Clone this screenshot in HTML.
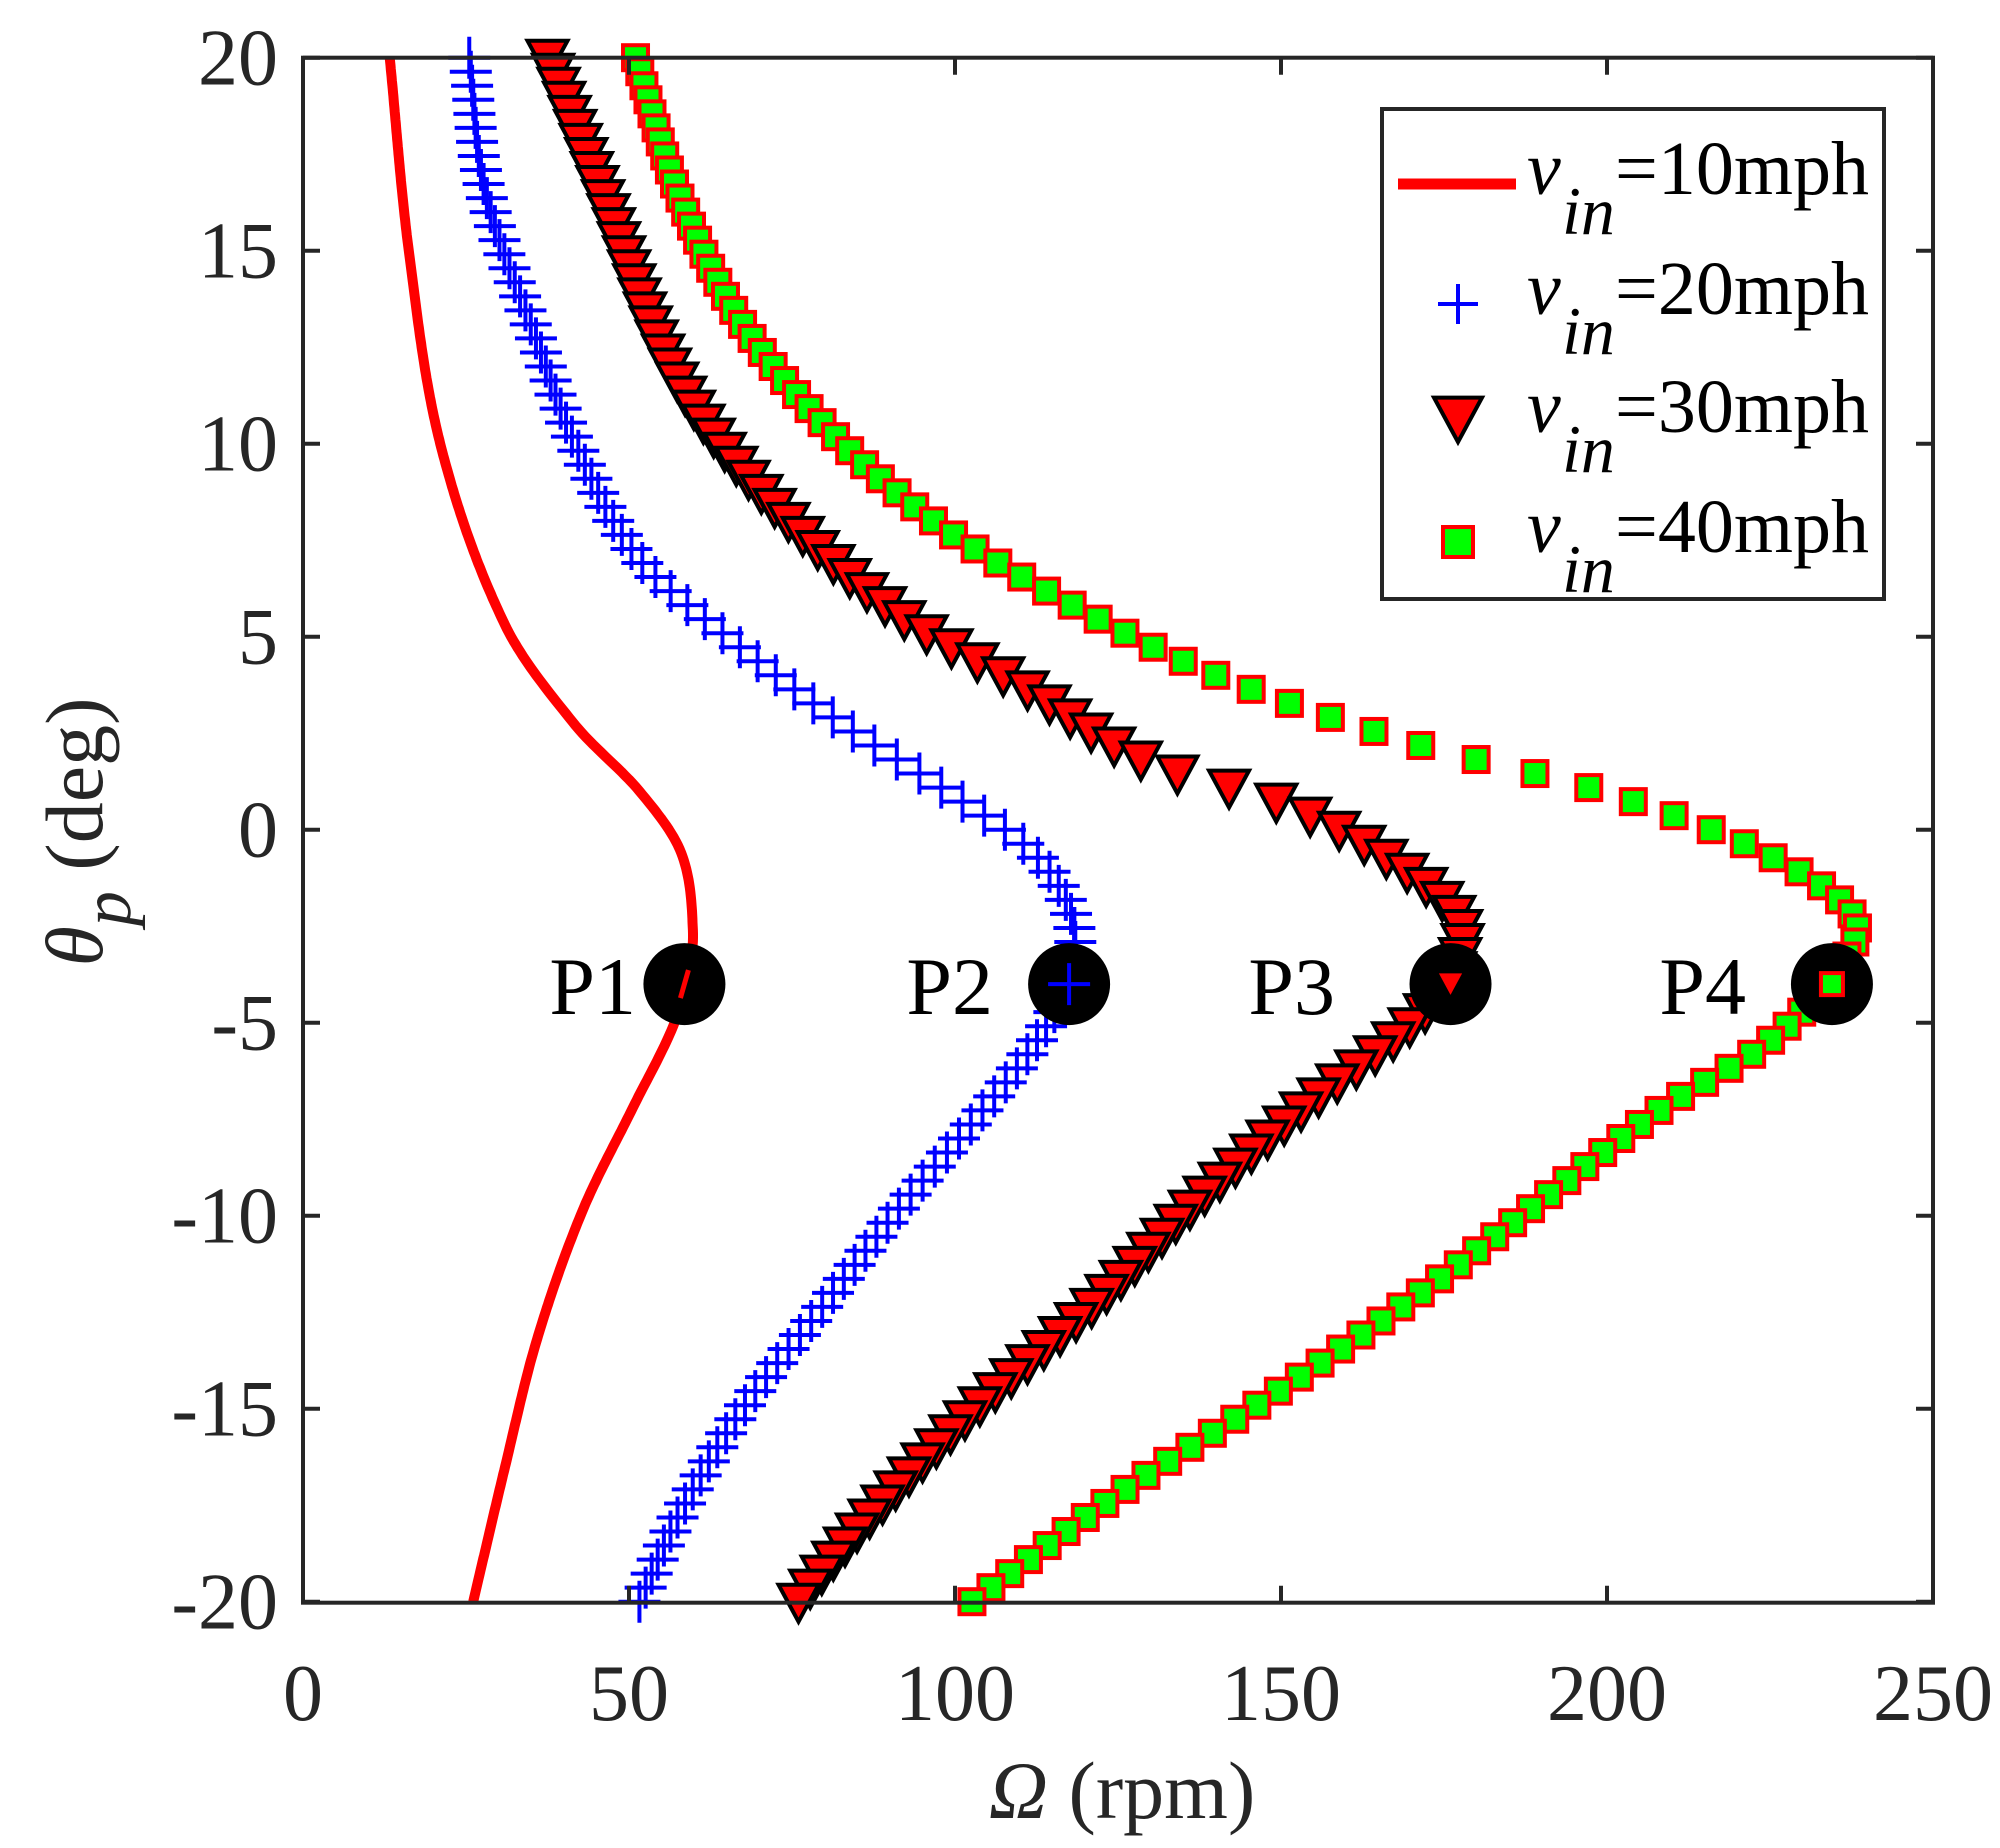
<!DOCTYPE html>
<html><head><meta charset="utf-8"><style>
html,body{margin:0;padding:0;background:#fff;}
text{font-family:"Liberation Serif","Times New Roman",serif;}
</style></head><body>
<svg id="s" width="2000" height="1843" viewBox="0 0 2000 1843" xmlns="http://www.w3.org/2000/svg" font-family="Liberation Serif, serif">
<rect width="2000" height="1843" fill="#fff"/>
<g id="plot"></g>
<g id="axes" stroke="#262626" stroke-width="4" fill="none"></g>
<g font-size="80" fill="#262626" id="labels"></g>
<text x="1122" y="1818" font-size="82" text-anchor="middle" fill="#262626"><tspan font-style="italic">Ω</tspan> (rpm)</text>
<text transform="translate(102,832) rotate(-90)" font-size="82" text-anchor="middle" fill="#262626"><tspan font-style="italic">θ</tspan><tspan font-size="70" dy="28" font-style="italic">p</tspan><tspan dy="-28"> (deg)</tspan></text>
<g id="legend"></g>
</svg>
<script>
var X0=303,XS=6.52,Y20=57.7,YS=38.6;
function px(o){return X0+o*XS;}function py(t){return Y20+(20-t)*YS;}
var NS="http://www.w3.org/2000/svg";
function el(p,t,a,txt){var e=document.createElementNS(NS,t);for(var k in a)e.setAttribute(k,a[k]);if(txt!==undefined)e.textContent=txt;p.appendChild(e);return e;}
var D={
r:[[20,13.3],[14.9,16.3],[9.9,21.2],[5.3,31],[2.7,41.8],[1,51.6],[-0.6,58],[-2.6,59.8],[-3.9,58.9],[-5.2,56.5],[-7.2,50.6],[-9.9,42.8],[-13.2,35.9],[-16.5,31],[-20,26.1]],
b:[[20,25.5],[16.5,28],[12.6,36],[9.9,42],[7,51.6],[5,65],[2.7,83],[1,98.7],[-0.6,112],[-2.3,118],[-3.9,117.4],[-5.6,112],[-7.6,102.6],[-9.9,91],[-12.5,79],[-15.1,67],[-17.8,57.5],[-20,51.6]],
t:[[20,37.5],[16.5,45.7],[11.6,57.5],[8.6,71],[5.6,91],[3.7,110.5],[1.7,130],[0.7,149.7],[-0.6,165],[-2.3,177],[-3.9,176],[-5.2,169],[-7.2,153.6],[-9.5,138],[-12.2,122],[-15.1,102.6],[-17.8,87],[-20,76]],
g:[[20,51],[16.5,57.5],[13.2,67],[10.3,81],[8,96.7],[6,116],[4,140],[2.3,169],[1,199],[-0.6,224],[-2.3,238],[-3.9,234],[-5.6,224],[-7.2,208.6],[-9.2,193],[-11.8,173],[-14.5,150],[-17.1,126],[-20,102.6]]};
function interp(pts,t){for(var i=0;i<pts.length-1;i++){var a=pts[i],b=pts[i+1];if(t<=a[0]&&t>=b[0]){var p0=pts[Math.max(i-1,0)],p3=pts[Math.min(i+2,pts.length-1)];var u=(a[0]-t)/(a[0]-b[0]);
var m1=(b[1]-p0[1])/(p0[0]-b[0]||1)*(a[0]-b[0]),m2=(p3[1]-a[1])/(a[0]-p3[0]||1)*(a[0]-b[0]);
var h00=2*u*u*u-3*u*u+1,h10=u*u*u-2*u*u+u,h01=-2*u*u*u+3*u*u,h11=u*u*u-u*u;return h00*a[1]+h10*m1+h01*b[1]+h11*m2;}}return pts[pts.length-1][1];}
var P=document.getElementById("plot");
var d="";for(var t=20;t>=-20.001;t-=0.1){d+=(d?"L":"M")+px(interp(D.r,t)).toFixed(1)+","+py(t).toFixed(1);}
el(P,"path",{d:d,stroke:"#f00","stroke-width":10,fill:"none","stroke-linejoin":"round"});
function plus(g,x,y,s,w){el(g,"path",{d:"M"+(x-s)+","+y+"H"+(x+s)+"M"+x+","+(y-s)+"V"+(y+s),stroke:"#00f","stroke-width":w,fill:"none"});}
function tri(g,x,y,s){el(g,"path",{d:"M"+(x-s)+","+(y-s*0.85)+"L"+(x+s)+","+(y-s*0.85)+"L"+x+","+(y+s*1.0)+"Z",fill:"#f00",stroke:"#000","stroke-width":4,"stroke-linejoin":"miter"});}
function sq(g,x,y,s){el(g,"rect",{x:x-s,y:y-s,width:2*s,height:2*s,fill:"#0f0",stroke:"#f00","stroke-width":4});}
var N=110,ST=40/N;
for(var i=0;i<=N;i++){var t=20-i*ST;plus(P,px(interp(D.b,t)),py(t),21,4);}
for(var i=0;i<=N;i++){var t=20-i*ST;tri(P,px(interp(D.t,t)),py(t),20);}
for(var i=0;i<=N;i++){var t=20-i*ST;sq(P,px(interp(D.g,t)),py(t),12.5);}
var pc=[[58.5,"P1",636],[117.5,"P2",993],[176,"P3",1335],[234.5,"P4",1746]];
pc.forEach(function(c,k){var x=px(c[0]),y=py(-4);el(P,"circle",{cx:x,cy:y,r:41,fill:"#000"});
if(k==0)el(P,"path",{d:"M"+(x-4)+","+(y+14)+"L"+(x+4)+","+(y-14),stroke:"#f00","stroke-width":5});
if(k==1)plus(P,x,y,21,4);if(k==2)tri(P,x,y,15);if(k==3)sq(P,x,y,11);
el(P,"text",{x:c[2],y:1014,"font-size":82,"text-anchor":"end",fill:"#000"},c[1]);});
var A=document.getElementById("axes");
el(A,"rect",{x:X0,y:Y20,width:1630,height:1545});
var L=document.getElementById("labels");
for(var v=0;v<=250;v+=50){var x=px(v);el(A,"path",{d:"M"+x+",1602.7v-17M"+x+","+Y20+"v17"});el(L,"text",{x:x,y:1720,"text-anchor":"middle"},String(v));}
for(var v=-20;v<=20;v+=5){var y=py(v);el(A,"path",{d:"M"+X0+","+y+"h17M1933,"+y+"h-17"});el(L,"text",{x:278,y:y+27,"text-anchor":"end"},String(v));}
var G=document.getElementById("legend");
el(G,"rect",{x:1382,y:109,width:502,height:490,fill:"#fff",stroke:"#262626","stroke-width":4});
var rows=[194,314,432,552];var names=["=10mph","=20mph","=30mph","=40mph"];
rows.forEach(function(y,k){var mx=1458,my=y-10;
if(k==0)el(G,"path",{d:"M1398,"+my+"H1516",stroke:"#f00","stroke-width":11});
if(k==1)plus(G,mx,my,20,4);if(k==2)tri(G,mx,my-4,24);if(k==3)sq(G,mx,my,15);
var t=el(G,"text",{x:1527,y:y,"font-size":76,fill:"#000"});
el(t,"tspan",{"font-style":"italic"},"v");el(t,"tspan",{"font-style":"italic",dy:40,"font-size":68,x:1562},"in");el(t,"tspan",{dy:-40,x:1615},names[k]);});
</script>
</body></html>
